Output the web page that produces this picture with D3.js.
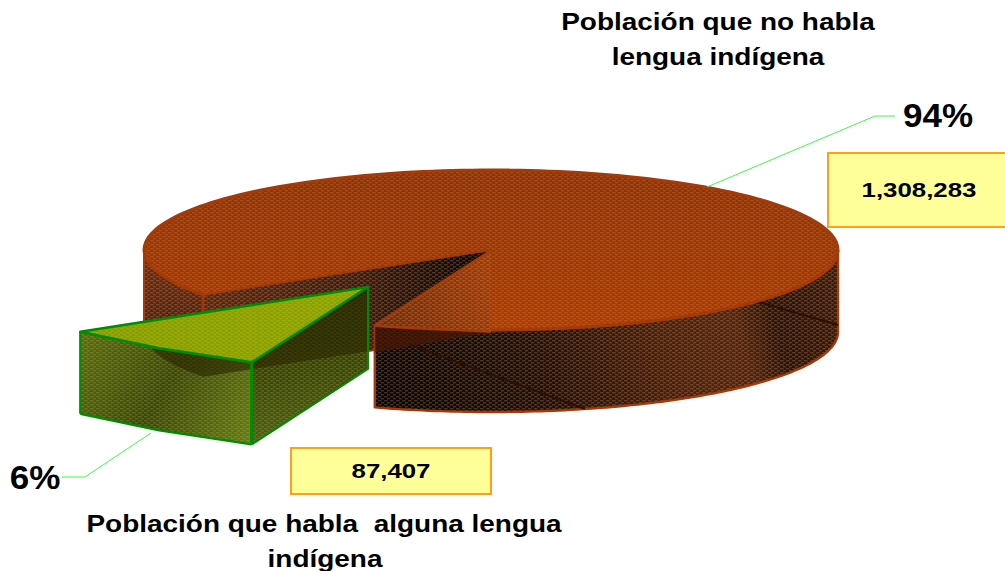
<!DOCTYPE html>
<html><head><meta charset="utf-8">
<script src="https://cdn.jsdelivr.net/npm/d3@7"></script>
<style>html,body{margin:0;background:#fff}svg{display:block}text{font-family:"Liberation Sans",Arial,sans-serif;font-weight:bold;fill:#000;text-anchor:middle;white-space:pre}</style>
</head><body><svg id="c" width="1005" height="571"></svg>
<script>
const categories = ["Población que no habla lengua indígena", "Población que habla alguna lengua indígena"];
const values = [1308283, 87407];
const titleLines = [["Población que no habla", "lengua indígena"], ["Población que habla  alguna lengua", "indígena"]];

const cx = 491, cy = 250, rx = 347, ry = 80, depth = 82;
const explode = [-123, 37];
const persp = 1.75;               // perspective stretch of the near side
const frontAngle = Math.PI / 2;   // screen angle facing the viewer
const deg = Math.PI / 180;

const svg = d3.select("#c");
const defs = svg.append("defs");

function pattern(id, dot) {
  const p = defs.append("pattern").attr("id", id).attr("patternUnits", "userSpaceOnUse")
    .attr("width", 6).attr("height", 4);
  p.append("rect").attr("x", 0).attr("y", 0.3).attr("width", 3.6).attr("height", 1).attr("fill", dot);
  p.append("rect").attr("x", 3).attr("y", 2.3).attr("width", 3.6).attr("height", 1).attr("fill", dot);
}
pattern("hTop", "rgba(235,140,85,.34)");
pattern("hRim", "rgba(205,160,135,.40)");
pattern("hGrn", "rgba(190,210,90,.30)");
pattern("hGrnTop", "rgba(190,205,40,.40)");

function grad(id, x1, y1, x2, y2, stops) {
  const g = defs.append("linearGradient").attr("id", id).attr("gradientUnits", "userSpaceOnUse")
    .attr("x1", x1).attr("y1", y1).attr("x2", x2).attr("y2", y2);
  stops.forEach(s => g.append("stop").attr("offset", s[0]).attr("stop-color", s[1]));
}
grad("gTop", 0, 170, 0, 330, [[0, "#8c3307"], [.6, "#9c3805"], [1, "#ab3d03"]]);
grad("gFront", 371, 410, 838, 290, [[0, "#080402"], [.35, "#1f0e05"], [.62, "#4a1f08"], [.78, "#52230a"], [.86, "#2a1206"], [1, "#3c1a08"]]);
grad("gLeft", 0, 240, 0, 340, [[0, "#762e0a"], [1, "#4a1f0a"]]);
grad("gWall1", 203, 310, 491, 260, [[0, "#5c270b"], [.55, "#3c1b0b"], [1, "#040201"]]);
grad("gWall2", 371, 323, 491, 290, [[0, "#6f2a04"], [1, "#a03a02"]]);
grad("gGLeft", 80, 340, 247, 444, [[0, "#5b6a12"], [.5, "#3e460c"], [1, "#667a18"]]);
grad("gGRight", 300, 300, 320, 430, [[0, "#30380a"], [.5, "#3a4208"], [1, "#4f5c16"]]);
grad("gGTop", 80, 330, 368, 300, [[0, "#879c00"], [1, "#8da200"]]);

// pie layout: first slice starts where the cut meets the near-left rim
const start = 213.8 * deg;
const arcs = d3.pie().sort(null).startAngle(start).endAngle(start + 2 * Math.PI)(values);

// d3 angle (0 = 12 o'clock) -> screen angle with perspective warp
function warp(a) {
  const th = a - Math.PI / 2;
  const k = Math.round((th - frontAngle) / (2 * Math.PI));
  const d = th - frontAngle - k * 2 * Math.PI;
  return frontAngle + 2 * Math.atan(persp * Math.tan(d / 2)) + k * 2 * Math.PI;
}
// on-screen rim direction -> d3 angle
const unwarp = t => frontAngle + 2 * Math.atan(Math.tan((t - frontAngle) / 2) / persp) + Math.PI / 2;

const sx = d3.scaleLinear().domain([-1, 1]).range([cx - rx, cx + rx]);
const sy = d3.scaleLinear().domain([-1, 1]).range([cy - ry, cy + ry]);
const pt = (a, z = 0, o = [0, 0]) => {
  const t = warp(a);
  return [sx(Math.cos(t)) + o[0], sy(Math.sin(t)) + z + o[1]];
};
const centre = (z = 0, o = [0, 0]) => [sx(0) + o[0], sy(0) + z + o[1]];
const line = d3.line();
const samples = (a0, a1, z, o) => d3.range(0, 121).map(i => pt(a0 + (a1 - a0) * i / 120, z, o));
const rimPts = (a0, a1, o) => samples(a0, a1, 0, o).concat(samples(a1, a0, depth, o));

const O = "#a33a08", G = "#008c00";
const big = arcs[0], small = arcs[1];
const g = svg.append("g");

function face(pts, fill, hatch, stroke, sw) {
  const d = line(pts) + "Z";
  g.append("path").attr("d", d).attr("fill", fill);
  g.append("path").attr("d", d).attr("fill", "url(#" + hatch + ")");
  if (stroke) stroked(d, stroke, sw);
}
function stroked(d, stroke, sw) {
  g.append("path").attr("d", d).attr("fill", "none").attr("stroke", stroke).attr("stroke-width", sw).attr("stroke-linejoin", "round");
}

// ---- orange slice ----
const a0 = big.startAngle, a1 = big.endAngle;
const leftA = unwarp(Math.PI);            // left extreme of the disc
const rightA = unwarp(0) + 2 * Math.PI;   // right extreme of the disc
face(rimPts(a0, leftA), "url(#gLeft)", "hRim", O, 2);
face([centre(), pt(a0), pt(a0, depth), centre(depth)], "url(#gWall1)", "hRim", O, 2);
face([centre(), pt(a1), pt(a1, depth), centre(depth)], "url(#gWall2)", "hRim", null);

// near outer rim, from the right extreme to the near cut edge
face(rimPts(a1, rightA), "url(#gFront)", "hRim", O, 2.4);
// the inner wall showing through the rim
g.append("path").attr("d", line([pt(a1), centre(depth), pt(a1, 27)]) + "Z").attr("fill", "#4a1703").attr("fill-opacity", .75);

// seams on the rim: [screen angle, depth, screen angle, depth]
const seams = [[103.5, 17, 74.3, 82], [40, 0, 0, 75]];
seams.forEach(s => {
  const p = [pt(unwarp(s[0] * deg), s[1]), pt(unwarp(s[2] * deg), s[3])];
  g.append("path").attr("d", line(p)).attr("stroke", "#2e1002").attr("stroke-width", 2).attr("fill", "none");
});

// top face of the orange slice
face([centre()].concat(samples(a0, a1, 0)), "url(#gTop)", "hTop", null);
stroked(line(samples(a0, a1, 0)), O, 3);
// the wedge opening: dark wall behind, bright wall in front
face([centre(), pt(a0), pt(a1)], "url(#gWall1)", "hRim", null);
face([centre(), pt(a1), centre(depth)], "url(#gWall2)", "hRim", null);
stroked(line([pt(a0), centre(), pt(a1)]), O, 2);
stroked(line([pt(a1), centre(depth)]), O, 2);

// ---- exploded green slice ----
const b0 = small.startAngle, b1 = small.endAngle;   // b0: near corner, b1: left corner
const apex = centre(0, explode);
const chord = (z) => {
  const p = pt(b0, z, explode), q = pt(b1, z, explode), m = pt((b0 + b1) / 2, z, explode);
  return [p, [(m[0] + (p[0] + q[0]) / 2) / 2, (m[1] + (p[1] + q[1]) / 2) / 2], q];
};
const rightFace = [apex, centre(depth, explode), pt(b0, depth, explode), pt(b0, 0, explode)];
const outerFace = chord(0).concat(chord(depth).reverse());
face(rightFace, "url(#gGRight)", "hGrn", null);
face(outerFace, "url(#gGLeft)", "hGrn", null);

// the orange body seen through the green faces
const clip = defs.append("clipPath").attr("id", "greenFaces");
clip.append("path").attr("d", line(rightFace) + "Z");
clip.append("path").attr("d", line(outerFace) + "Z");
const body = samples(leftA, a0, depth).concat([centre(depth), centre(), pt(leftA)]);
g.append("path").attr("d", line(body) + "Z").attr("fill", "#2a2400").attr("fill-opacity", .6).attr("clip-path", "url(#greenFaces)");

stroked(line([pt(b0, depth, explode), centre(depth, explode), centre(0, explode)]), G, 2);
stroked(line(chord(depth)), G, 2.4);
stroked(line([pt(b0, 0, explode), pt(b0, depth, explode)]), G, 3.4);
stroked(line([pt(b1, 0, explode), pt(b1, depth, explode)]), G, 2.4);
face([apex].concat(chord(0)), "url(#gGTop)", "hGrnTop", G, 2.6);

// ---- leaders, labels ----
const pcts = values.map(v => d3.format(".0%")(v / d3.sum(values)));
const nums = values.map(d3.format(","));
function leader(points) {
  svg.append("path").attr("d", line(points)).attr("fill", "none").attr("stroke", "#3dfa3d").attr("stroke-width", 1);
}
leader([[707, 187], [875, 116], [895, 116]]);
leader([[151, 433], [85, 477], [62, 477]]);

[[828, 153, 190, 74], [291, 448, 200, 46]].forEach(b =>
  svg.append("rect").attr("x", b[0]).attr("y", b[1]).attr("width", b[2]).attr("height", b[3])
    .attr("fill", "#ffff99").attr("stroke", "#ff9f1c").attr("stroke-width", 2));

function label(t, x, y, size, k) {
  svg.append("text").attr("transform", `translate(${x},${y}) scale(${k},1)`).attr("font-size", size).text(t);
}
label(titleLines[0][0], 718, 30, 23.5, 1.19);
label(titleLines[0][1], 718, 65, 23.5, 1.19);
label(titleLines[1][0], 324, 532, 23.5, 1.19);
label(titleLines[1][1], 325, 567, 23.5, 1.19);
label(pcts[0], 938, 127, 34, 1.03);
label(pcts[1], 35, 489, 34, 1.03);
label(nums[0], 919, 197, 21, 1.23);
label(nums[1], 391, 478, 21, 1.23);
</script></body></html>
